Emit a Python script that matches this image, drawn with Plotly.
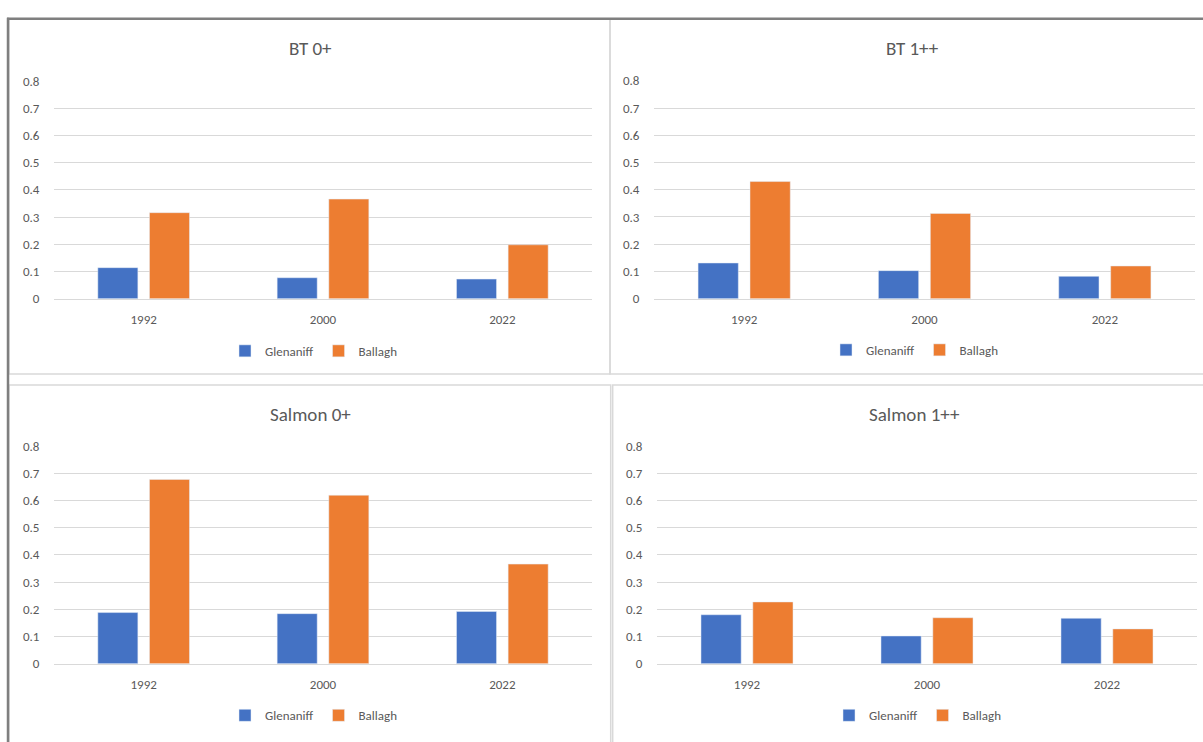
import plotly.graph_objects as go

# ---- data ----
years = ["1992", "2000", "2022"]
series_names = ["Glenaniff", "Ballagh"]
panel_titles = ["BT 0+", "BT 1++", "Salmon 0+", "Salmon 1++"]

bt0_glenaniff = [0.114, 0.077, 0.072]
bt0_ballagh = [0.316, 0.366, 0.198]
bt1_glenaniff = [0.131, 0.103, 0.082]
bt1_ballagh = [0.430, 0.313, 0.120]
salmon0_glenaniff = [0.188, 0.184, 0.192]
salmon0_ballagh = [0.677, 0.619, 0.366]
salmon1_glenaniff = [0.180, 0.102, 0.167]
salmon1_ballagh = [0.227, 0.169, 0.128]

y_ticks = [0, 0.1, 0.2, 0.3, 0.4, 0.5, 0.6, 0.7, 0.8]
y_ticklabels = ["0", "0.1", "0.2", "0.3", "0.4", "0.5", "0.6", "0.7", "0.8"]

panels = [
    (bt0_glenaniff, bt0_ballagh),
    (bt1_glenaniff, bt1_ballagh),
    (salmon0_glenaniff, salmon0_ballagh),
    (salmon1_glenaniff, salmon1_ballagh),
]

# ---- layout geometry (pixels) ----
W, H = 1203, 742
BLUE = "#4472C4"
ORANGE = "#ED7D31"
TEXT = "#595959"
GRID = "#D9D9D9"
FONT = "Calibri, Carlito, Lato, sans-serif"

def px(x):
    return x / W

def py(y):
    return 1 - y / H

# plot areas: (x0, x1, ytop, ybottom)
areas = [
    (54, 592, 75.5, 297.7),
    (654, 1195, 75.3, 297.7),
    (54, 592, 448, 670.3),
    (657, 1197, 448, 670.3),
]
title_pos = [(310, 42), (912, 42), (310, 415.5), (914, 415.5)]
legend_pos = [(314, 351), (915, 350), (314, 723), (918, 723)]

fig = go.Figure()
layout = dict(
    width=W, height=H,
    margin=dict(l=0, r=0, t=0, b=0),
    paper_bgcolor="white", plot_bgcolor="white",
    barmode="group", bargap=0.424, bargroupgap=0.225,
    font=dict(family=FONT, color=TEXT, size=13),
    showlegend=True,
)

annotations = []
for i, ((glen, ball), (x0, x1, yt, yb)) in enumerate(zip(panels, areas)):
    n = "" if i == 0 else str(i + 1)
    leg = "legend" if i == 0 else f"legend{i+1}"
    fig.add_trace(go.Bar(x=years, y=glen, name=series_names[0], marker_color=BLUE,
                         xaxis="x" + n, yaxis="y" + n, legend=leg))
    fig.add_trace(go.Bar(x=years, y=ball, name=series_names[1], marker_color=ORANGE,
                         xaxis="x" + n, yaxis="y" + n, legend=leg))
    layout["xaxis" + n] = dict(
        domain=[px(x0), px(x1)], anchor="y" + n, type="category",
        showgrid=False, showline=True, linecolor=GRID, linewidth=1,
        ticks="outside", ticklen=9, tickcolor="rgba(0,0,0,0)",
        tickfont=dict(size=13, color=TEXT), fixedrange=True,
    )
    layout["yaxis" + n] = dict(
        domain=[py(yb), py(yt)], anchor="x" + n, range=[0, 0.8],
        tickvals=y_ticks, ticktext=y_ticklabels,
        showgrid=True, gridcolor=GRID, gridwidth=1, zeroline=False,
        showline=False, ticks="outside", ticklen=11, tickcolor="rgba(0,0,0,0)",
        tickfont=dict(size=13, color=TEXT), fixedrange=True,
    )
    lx, ly = legend_pos[i]
    layout[leg] = dict(
        orientation="h", x=px(lx), y=py(ly), xanchor="center", yanchor="middle",
        font=dict(size=13, color=TEXT), bgcolor="rgba(0,0,0,0)",
        itemwidth=30, tracegroupgap=0,
    )
    tx, ty = title_pos[i]
    annotations.append(dict(text=panel_titles[i], x=px(tx), y=py(ty), xref="paper", yref="paper",
                            xanchor="center", yanchor="middle", showarrow=False,
                            font=dict(size=19, color=TEXT, family=FONT)))

shapes = []
# panel borders (light gray)
panel_rects = [(9, 12.5, 610, 374.5), (610, 12.5, 1210, 374.5),
               (9, 385.7, 610.7, 760), (612.7, 385.7, 1210, 760)]
for (a, b, c, d) in panel_rects:
    shapes.append(dict(type="rect", xref="paper", yref="paper",
                       x0=px(a), x1=px(c), y0=py(d), y1=py(b),
                       line=dict(color=GRID, width=1.5), fillcolor="rgba(0,0,0,0)", layer="below"))
# dark outer frame (top and left)
shapes.append(dict(type="line", xref="paper", yref="paper", x0=px(7), x1=px(1210),
                   y0=py(12), y1=py(12), line=dict(color="#7F7F7F", width=2.5)))
shapes.append(dict(type="line", xref="paper", yref="paper", x0=px(8), x1=px(8),
                   y0=py(11), y1=py(760), line=dict(color="#7F7F7F", width=2.5)))

layout["annotations"] = annotations
layout["shapes"] = shapes
fig.update_layout(**layout)
fig.write_html("out.html", config={"displayModeBar": False},
               post_script="document.body.style.margin='0';document.body.style.overflow='hidden';")
